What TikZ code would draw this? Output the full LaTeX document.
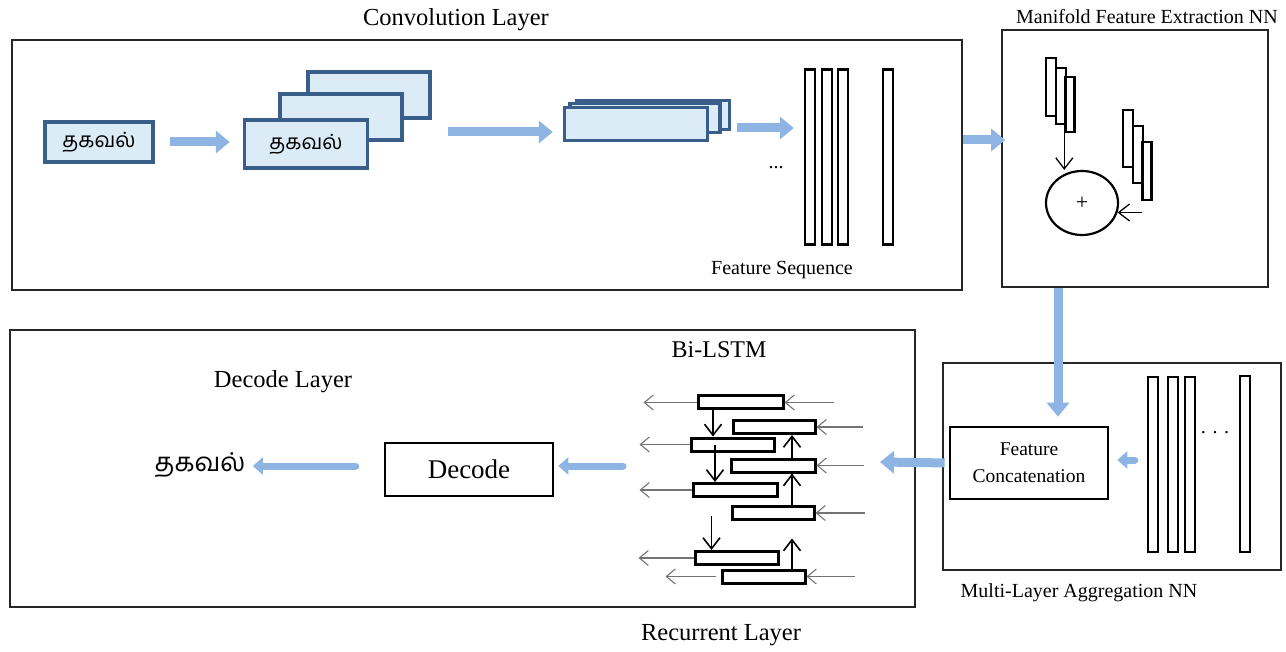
\documentclass[tikz,border=0pt]{standalone}
\usepackage{fontspec}
\setmainfont{Liberation Serif}
\newfontfamily\tamilfont[Script=Tamil]{Hind Madurai}
\usetikzlibrary{arrows.meta,shapes.geometric}

\definecolor{flowblue}{RGB}{141,180,226}
\definecolor{mapfill}{RGB}{219,236,247}
\definecolor{mapedge}{RGB}{58,94,138}

\tikzset{
	frame/.style={draw=black!85, line width=1.6pt, minimum width=#1},
	mapbox/.style={draw=mapedge, fill=mapfill, line width=3.5pt, inner sep=0pt},
	seqbar/.style={draw, line width=2.4pt, inner sep=0pt, minimum width=10pt},
	cellbox/.style={draw, line width=3pt, inner sep=0pt, minimum height=13pt},
	plainbox/.style={draw, line width=2.6pt, inner sep=0pt},
	flow/.style={draw=flowblue, line width=9pt, -{Triangle[length=14pt,width=22pt]}},
	flowsmall/.style={draw=flowblue, line width=7pt, line cap=round, -{Triangle[length=10pt,width=17pt]}},
	feedarrow/.style={line width=1.6pt, -{Straight Barb[length=11pt,width=17pt]}},
	timearrow/.style={draw=black!55, line width=1.1pt, -{Straight Barb[length=9pt,width=15pt]}},
	heading/.style={font=\fontsize{24.5}{28}\selectfont},
	caption/.style={font=\fontsize{20}{24}\selectfont},
	tamiltext/.style={font=\tamilfont\fontsize{21}{25}\selectfont}
}

\begin{document}
\begin{tikzpicture}[x=1pt, y=-1pt]
	\useasboundingbox (0,0) rectangle (1286,652);

	% convolution layer
	\node (convtitle) at (456,20) [heading] {Convolution Layer};
	\node (convlayer) at (487,165) [frame=950pt, minimum height=250pt] {};

	\node (input) at (99,142) [mapbox, minimum width=108pt, minimum height=40pt, tamiltext] {தகவல்};
	\node (stackback) at (369,95) [mapbox, minimum width=122pt, minimum height=46pt] {};
	\node (stackmid) at (341,117) [mapbox, minimum width=122pt, minimum height=46pt] {};
	\node (stackfront) at (306,144) [mapbox, minimum width=123pt, minimum height=48pt, tamiltext] {தகவல்};

	\node (sqback) at (653,115) [mapbox, minimum width=153pt, minimum height=29pt] {};
	\node (sqmid) at (645,118) [mapbox, minimum width=150pt, minimum height=29pt] {};
	\node (sqfront) at (636,124) [mapbox, minimum width=143pt, minimum height=33pt] {};

	\node (fs1) at (810,157) [seqbar, minimum height=175pt] {};
	\node (fs2) at (827,157) [seqbar, minimum height=175pt] {};
	\node (fs3) at (843,157) [seqbar, minimum height=175pt] {};
	\node (fs4) at (888,157) [seqbar, minimum height=175pt] {};
	\node (fsdots) at (776,168) [caption] {...};
	\node (fscap) at (782,270) [caption] {Feature Sequence};

	\coordinate (sqin) at (448,132);
	\coordinate (seqin) at (737,128);
	\draw[flow, shorten <=15pt, shorten >=13pt] (input.east) -- (input.east -| stackfront.west);
	\draw[flow, shorten >=10pt] (sqin) -- (sqin -| sqfront.west);
	\draw[flow, shorten >=10pt] (seqin) -- (seqin -| fs1.west);

	% manifold feature extraction
	\node (mantitle) at (1147,17) [caption] {Manifold Feature Extraction NN};
	\node (manifold) at (1135,158.5) [frame=266pt, minimum height=257pt] {};
	\node (m1) at (1051,87) [seqbar, minimum height=58pt] {};
	\node (m2) at (1061,96) [seqbar, minimum height=56pt] {};
	\node (m3) at (1070,104.5) [seqbar, minimum width=9pt, minimum height=55pt] {};
	\node (m4) at (1128,138.5) [seqbar, minimum height=57pt] {};
	\node (m5) at (1138,154.5) [seqbar, minimum height=57pt] {};
	\node (m6) at (1147,171) [seqbar, minimum width=9pt, minimum height=58pt] {};
	\node (sum) at (1082,203) [draw, ellipse, line width=2.2pt, minimum width=72pt, minimum height=64pt, font=\fontsize{22}{24}\selectfont] {+};
	\draw[feedarrow, line width=1.3pt] (m3.south west) -- (m3.south west |- sum.north);
	\draw[feedarrow, line width=1.3pt, shorten <=-1pt] (m6.south west |- sum.-15) -- (sum.-15);

	\draw[flow, shorten >=-4pt] (convlayer.east |- 0,140) -- (manifold.west |- 0,140);

	% multi-layer aggregation
	\node (multi) at (1112,466.5) [frame=338pt, minimum height=207pt] {};
	\node (multicap) at (1079,593) [caption] {Multi-Layer Aggregation NN};
	\node (featcat) at (1029,463) [plainbox, minimum width=158pt, minimum height=72pt, align=center, font=\fontsize{19.5}{27}\selectfont] {Feature\\Concatenation};
	\node (a1) at (1153,464.5) [seqbar, minimum height=175pt] {};
	\node (a2) at (1173,464.5) [seqbar, minimum height=175pt] {};
	\node (a3) at (1190,464.5) [seqbar, minimum height=175pt] {};
	\node (a4) at (1245,464) [seqbar, minimum height=176pt] {};
	\node (adots) at (1215,433) [caption] {. . .};

	\draw[flow, shorten >=9pt] (manifold.south -| 1058,0) -- (featcat.north -| 1058,0);
	\draw[flowsmall, shorten <=12pt, shorten >=8pt] (a1.west |- 0,460) -- (featcat.east |- 0,460);

	% recurrent and decode layers
	\node (recurrent) at (462.5,468.5) [frame=905pt, minimum height=277pt] {};
	\node (rectitle) at (719,350) [font=\fontsize{24}{28}\selectfont] {Bi-LSTM};
	\node (dectitle) at (283,382) [font=\fontsize{24.5}{28}\selectfont] {Decode Layer};
	\node (reccap) at (721,635) [font=\fontsize{24.5}{28}\selectfont] {Recurrent Layer};

	\node (r1) at (740.5,402.5) [cellbox, minimum width=85pt] {};
	\node (r2) at (774,427) [cellbox, minimum width=82pt] {};
	\node (r3) at (732.5,444.5) [cellbox, minimum width=83pt] {};
	\node (r4) at (773,465.5) [cellbox, minimum width=84pt] {};
	\node (r5) at (735,490) [cellbox, minimum width=84pt] {};
	\node (r6) at (773,513) [cellbox, minimum width=82pt] {};
	\node (r7) at (736.5,558) [cellbox, minimum width=83pt] {};
	\node (r8) at (763.5,576.5) [cellbox, minimum width=83pt] {};

	\draw[timearrow] (r1.west) -- ++(-53,0);
	\draw[timearrow] (r3.west) -- ++(-50,0);
	\draw[timearrow] (r5.west) -- ++(-52,0);
	\draw[timearrow] (r7.west) -- ++(-55,0);
	\draw[timearrow] ([xshift=-5pt]r8.west) -- ++(-50,0);
	\draw[timearrow] ([xshift=49pt]r1.east) -- (r1.east);
	\draw[timearrow] ([xshift=46pt]r2.east) -- (r2.east);
	\draw[timearrow] ([xshift=47pt]r4.east) -- (r4.east);
	\draw[timearrow] ([xshift=49pt]r6.east) -- (r6.east);
	\draw[timearrow] ([xshift=48pt]r8.east) -- (r8.east);

	\draw[feedarrow] (r1.south -| 713,0) -- (r3.north -| 713,0);
	\draw[feedarrow] (r3.center -| 715,0) -- (r5.north -| 715,0);
	\draw[feedarrow] ([xshift=18pt,yshift=34pt]r7.north west) -- ([xshift=18pt]r7.north west);
	\draw[feedarrow] (r4.north -| 792,0) -- (r2.south -| 792,0);
	\draw[feedarrow] (r6.north -| 792,0) -- (r4.south -| 792,0);
	\draw[feedarrow] (r8.north -| 792,0) -- ([yshift=30pt]r8.north -| 792,0);

	\node (decode) at (469,469.5) [plainbox, minimum width=168pt, minimum height=53pt, font=\fontsize{27}{30}\selectfont] {Decode};
	\node (output) at (200,465) [font=\tamilfont\fontsize{26}{30}\selectfont] {தகவல்};

	\coordinate (lstmin) at (880,462);
	\coordinate (lstmout) at (623,466);
	\draw[flow, shorten <=4pt] (featcat.west) -- (lstmin);
	\draw[flowsmall, shorten >=4pt] (lstmout) -- (decode.east |- lstmout);
	\draw[flowsmall, shorten <=28pt, shorten >=4pt] (decode.west |- lstmout) -- (output.east |- lstmout);
\end{tikzpicture}
\end{document}
